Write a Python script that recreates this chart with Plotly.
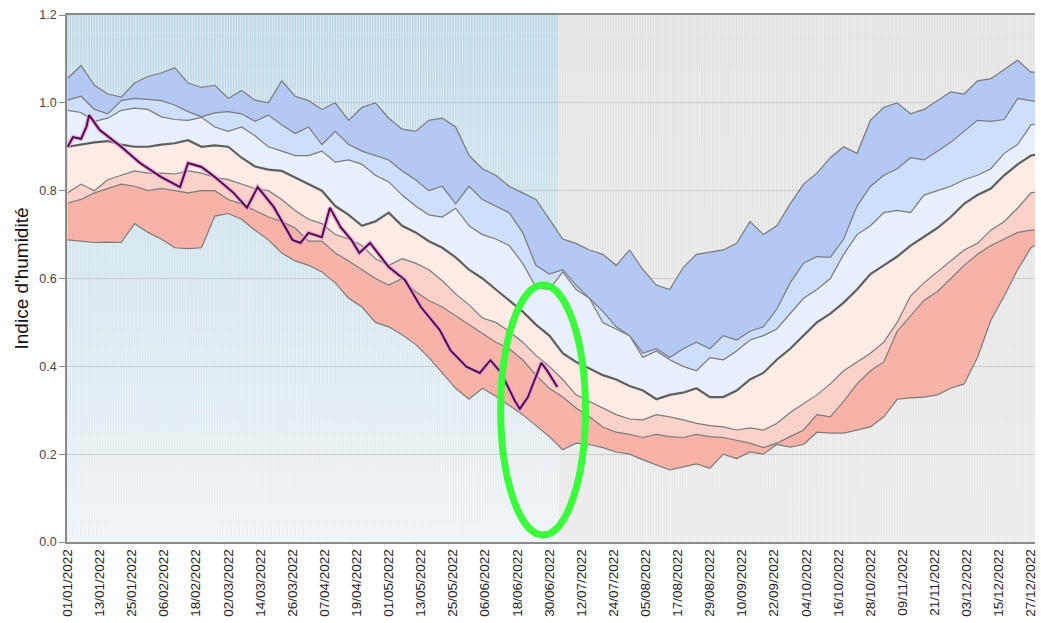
import pandas as pd
import plotly.graph_objects as go

START = pd.Timestamp("2022-01-01")

# grille commune des percentiles : un point tous les 5 jours
DAYS = list(range(0, 366, 5))

MAXI = [1.056, 1.085, 1.04, 1.02, 1.013, 1.045, 1.06, 1.068, 1.08, 1.045,
        1.035, 1.04, 1.01, 1.028, 1.006, 1.0, 1.05, 1.015, 1.005, 0.985,
        1.0, 0.96, 0.99, 1.0, 0.965, 0.94, 0.935, 0.96, 0.965, 0.945,
        0.88, 0.85, 0.835, 0.81, 0.795, 0.78, 0.735, 0.69, 0.68, 0.665,
        0.655, 0.63, 0.665, 0.62, 0.585, 0.575, 0.625, 0.655, 0.66, 0.665,
        0.68, 0.73, 0.7, 0.72, 0.77, 0.815, 0.84, 0.875, 0.9, 0.885,
        0.96, 0.99, 1.0, 0.975, 0.985, 1.005, 1.025, 1.02, 1.05, 1.055,
        1.075, 1.097, 1.07, 1.07]

D9 = [1.006, 1.015, 0.985, 0.975, 1.005, 1.01, 1.008, 1.005, 0.995, 0.98,
      0.968, 0.977, 0.98, 0.975, 0.958, 0.972, 0.95, 0.93, 0.945, 0.905,
      0.935, 0.905, 0.89, 0.88, 0.87, 0.845, 0.825, 0.8, 0.81, 0.77,
      0.81, 0.78, 0.765, 0.75, 0.705, 0.63, 0.61, 0.62, 0.585, 0.555,
      0.525, 0.49, 0.47, 0.43, 0.44, 0.42, 0.44, 0.455, 0.44, 0.47,
      0.46, 0.48, 0.49, 0.53, 0.59, 0.635, 0.65, 0.648, 0.69, 0.765,
      0.81, 0.835, 0.85, 0.875, 0.87, 0.89, 0.91, 0.935, 0.96, 0.958,
      0.962, 1.01, 1.005, 1.0]

D8 = [0.983, 0.978, 0.958, 0.965, 0.983, 0.988, 0.985, 0.968, 0.962, 0.96,
      0.967, 0.945, 0.935, 0.945, 0.925, 0.9, 0.89, 0.88, 0.88, 0.89,
      0.865, 0.87, 0.86, 0.835, 0.82, 0.79, 0.765, 0.745, 0.74, 0.76,
      0.72, 0.7, 0.69, 0.675, 0.635, 0.58, 0.575, 0.615, 0.575, 0.555,
      0.5, 0.485, 0.47, 0.42, 0.435, 0.415, 0.4, 0.39, 0.42, 0.415,
      0.435, 0.46, 0.47, 0.485, 0.52, 0.555, 0.575, 0.6, 0.655, 0.7,
      0.72, 0.75, 0.755, 0.75, 0.79, 0.8, 0.81, 0.825, 0.835, 0.85,
      0.885, 0.905, 0.95, 0.955]

MEDIANE = [0.9, 0.905, 0.91, 0.913, 0.905, 0.9, 0.9, 0.905, 0.908, 0.915,
           0.9, 0.903, 0.9, 0.875, 0.855, 0.848, 0.845, 0.83, 0.815, 0.8,
           0.765, 0.745, 0.72, 0.73, 0.75, 0.72, 0.705, 0.685, 0.67, 0.648,
           0.62, 0.6, 0.575, 0.55, 0.525, 0.495, 0.47, 0.43, 0.41, 0.395,
           0.38, 0.37, 0.355, 0.345, 0.325, 0.335, 0.34, 0.35, 0.33, 0.33,
           0.345, 0.37, 0.385, 0.415, 0.44, 0.47, 0.5, 0.52, 0.545, 0.575,
           0.61, 0.63, 0.65, 0.675, 0.695, 0.715, 0.74, 0.77, 0.79, 0.805,
           0.835, 0.86, 0.88, 0.885]

D2 = [0.795, 0.815, 0.8, 0.825, 0.835, 0.845, 0.84, 0.84, 0.838, 0.845,
      0.84, 0.83, 0.825, 0.815, 0.805, 0.8, 0.78, 0.755, 0.735, 0.725,
      0.7, 0.69, 0.675, 0.645, 0.63, 0.645, 0.635, 0.62, 0.595, 0.565,
      0.54, 0.51, 0.5, 0.48, 0.455, 0.425, 0.4, 0.37, 0.335, 0.32,
      0.305, 0.29, 0.28, 0.278, 0.29, 0.285, 0.278, 0.27, 0.265, 0.262,
      0.255, 0.26, 0.255, 0.27, 0.295, 0.315, 0.335, 0.36, 0.39, 0.41,
      0.43, 0.455, 0.5, 0.56, 0.59, 0.615, 0.64, 0.665, 0.68, 0.71,
      0.73, 0.76, 0.795, 0.8]

D1 = [0.772, 0.78, 0.795, 0.805, 0.815, 0.81, 0.8, 0.805, 0.8, 0.795,
      0.8, 0.8, 0.78, 0.77, 0.755, 0.74, 0.73, 0.715, 0.685, 0.685,
      0.658, 0.64, 0.62, 0.6, 0.585, 0.6, 0.57, 0.55, 0.535, 0.515,
      0.495, 0.475, 0.455, 0.44, 0.415, 0.38, 0.35, 0.33, 0.305, 0.285,
      0.262, 0.25, 0.245, 0.238, 0.245, 0.24, 0.238, 0.245, 0.24, 0.238,
      0.232, 0.225, 0.215, 0.225, 0.24, 0.255, 0.29, 0.285, 0.32, 0.36,
      0.39, 0.41, 0.48, 0.515, 0.55, 0.57, 0.6, 0.63, 0.655, 0.675,
      0.69, 0.705, 0.71, 0.71]

MINI = [0.688, 0.685, 0.682, 0.683, 0.682, 0.725, 0.705, 0.69, 0.67, 0.668,
        0.67, 0.742, 0.748, 0.735, 0.71, 0.688, 0.658, 0.64, 0.63, 0.615,
        0.59, 0.555, 0.535, 0.5, 0.49, 0.472, 0.45, 0.42, 0.385, 0.35,
        0.325, 0.35, 0.332, 0.31, 0.29, 0.265, 0.24, 0.21, 0.225, 0.222,
        0.215, 0.205, 0.2, 0.187, 0.175, 0.164, 0.171, 0.178, 0.168, 0.2,
        0.19, 0.205, 0.2, 0.222, 0.216, 0.222, 0.25, 0.248, 0.248, 0.255,
        0.262, 0.285, 0.325, 0.328, 0.33, 0.335, 0.35, 0.36, 0.42, 0.505,
        0.56, 0.62, 0.67, 0.69]

# année 2022
JOURS_2022 = [0, 2, 5, 7, 8, 12, 20, 27, 35, 37, 42, 45, 50, 55, 62, 67, 71, 77,
              84, 87, 90, 95, 98, 102, 106, 109, 113, 120, 126, 132, 139, 143,
              149, 154, 158, 162, 167, 169, 172, 177, 179, 183]
SWI_2022 = [0.9, 0.922, 0.918, 0.945, 0.972, 0.938, 0.9, 0.863, 0.831, 0.824,
            0.808, 0.863, 0.854, 0.831, 0.795, 0.761, 0.808, 0.763, 0.688,
            0.681, 0.704, 0.694, 0.761, 0.717, 0.688, 0.658, 0.681, 0.626,
            0.597, 0.535, 0.483, 0.437, 0.399, 0.385, 0.414, 0.385, 0.323,
            0.303, 0.33, 0.408, 0.392, 0.353]

JOUR_COURANT = 183.5


def to_dates(days):
    return [START + pd.Timedelta(days=d) for d in days]


def mix(c1, c2, t):
    return "rgb(%d,%d,%d)" % tuple(round(a + (b - a) * t) for a, b in zip(c1, c2))


x = to_dates(DAYS)
x_lo = START - pd.Timedelta(hours=6)
x_hi = START + pd.Timedelta(days=361.5)
cut = START + pd.Timedelta(days=JOUR_COURANT)

fig = go.Figure()

# Fond : degradé bleu (passé) puis gris (à venir)
n = 30
for i in range(n):
    t = i / (n - 1)
    fig.add_shape(type="rect", xref="x", yref="y", x0=x_lo, x1=cut,
                  y0=1.2 * i / n, y1=1.2 * (i + 1) / n + 0.001,
                  fillcolor=mix((236, 242, 246), (190, 216, 230), t),
                  line_width=0, layer="below")
    fig.add_shape(type="rect", xref="x", yref="y", x0=cut, x1=x_hi,
                  y0=1.2 * i / n, y1=1.2 * (i + 1) / n + 0.001,
                  fillcolor=mix((233, 233, 233), (226, 226, 226), t),
                  line_width=0, layer="below")

# stries verticales
for d in range(0, 362):
    xd = START + pd.Timedelta(days=d + 0.5)
    fig.add_shape(type="line", xref="x", yref="y", x0=xd, x1=xd, y0=0, y1=1.2,
                  line=dict(color="rgba(255,255,255,0.45)", width=1), layer="below")

# Bandes
bands = [
    ("Min", MINI, None),
    ("Décile 1", D1, "#f7b3a8"),
    ("Décile 2", D2, "#fbd2c9"),
    ("Médiane", MEDIANE, "#fdebe5"),
    ("Décile 8", D8, "#e7f0fc"),
    ("Décile 9", D9, "#cddffa"),
    ("Max", MAXI, "#b3c9f4"),
]
for name, vals, fillc in bands:
    fig.add_trace(go.Scatter(
        x=x, y=vals, mode="lines", name=name,
        line=dict(color="#5f5f5f" if name == "Médiane" else "#7a7a7a",
                  width=2.2 if name == "Médiane" else 1.2),
        fill="tonexty" if fillc else None,
        fillcolor=fillc,
        hoverinfo="skip",
    ))

# 2022
x22 = to_dates(JOURS_2022)
fig.add_trace(go.Scatter(x=x22, y=SWI_2022, mode="lines",
                         line=dict(color="rgba(235,160,215,0.8)", width=4.5),
                         hoverinfo="skip"))
fig.add_trace(go.Scatter(x=x22, y=SWI_2022, mode="lines", name="2022",
                         line=dict(color="#4d0f4b", width=2)))

# Ellipse verte
fig.add_shape(type="circle", xref="x", yref="y",
              x0=START + pd.Timedelta(days=161.8), x1=START + pd.Timedelta(days=193.5),
              y0=0.016, y1=0.585,
              line=dict(color="#3cfb3c", width=7), layer="above")

fig.update_layout(
    width=1041, height=623,
    margin=dict(l=67, r=6, t=15, b=81),
    paper_bgcolor="white",
    plot_bgcolor="white",
    showlegend=False,
    font=dict(family="Liberation Sans, Arial, sans-serif", color="#333333"),
    xaxis=dict(
        type="date",
        range=[x_lo, x_hi],
        tick0="2022-01-01",
        dtick=12 * 86400000,
        tickformat="%d/%m/%Y",
        tickangle=-90,
        tickfont=dict(size=13.5, family="Liberation Sans, Arial", color="#222222"),
        showgrid=False,
        showline=True, linecolor="#8a8a8a", linewidth=1.5, mirror=True,
        ticks="",
        automargin=False,
    ),
    yaxis=dict(
        range=[0, 1.2],
        dtick=0.2,
        tickformat=".1f",
        tickfont=dict(size=12.5, color="#444444"),
        ticks="outside", ticklen=6, tickcolor="#8a8a8a",
        showgrid=True, gridcolor="rgba(150,150,150,0.35)",
        showline=True, linecolor="#8a8a8a", linewidth=1.5,
        zeroline=False,
        automargin=False,
        title=dict(text="Indice d'humidité", font=dict(size=19, color="#111111"), standoff=6),
    ),
)

fig.write_html("out.html", config={"displayModeBar": False},
               post_script="document.body.style.margin='0';")
